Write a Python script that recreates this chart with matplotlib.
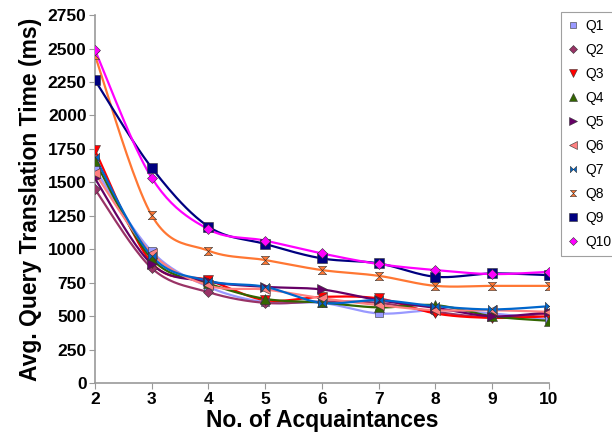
import numpy as np
import matplotlib.pyplot as plt
from matplotlib.path import Path

plt.rcParams['font.family'] = ['Liberation Sans', 'DejaVu Sans']

acquaintances = [2, 3, 4, 5, 6, 7, 8, 9, 10]
series_names = ["Q1", "Q2", "Q3", "Q4", "Q5", "Q6", "Q7", "Q8", "Q9", "Q10"]

q1 = [1600, 985, 720, 605, 600, 521, 545, 521, 476]
q2 = [1450, 860, 680, 600, 610, 600, 533, 492, 521]
q3 = [1740, 900, 770, 620, 645, 633, 521, 488, 500]
q4 = [1660, 930, 745, 630, 603, 566, 583, 500, 466]
q5 = [1530, 890, 760, 720, 700, 620, 563, 500, 530]
q6 = [1570, 970, 730, 700, 635, 583, 545, 545, 533]
q7 = [1690, 950, 765, 720, 600, 620, 575, 551, 575]
q8 = [2450, 1255, 990, 920, 845, 802, 727, 727, 727]
q9 = [2265, 1610, 1170, 1040, 932, 895, 795, 820, 807]
q10 = [2490, 1535, 1150, 1065, 969, 890, 845, 815, 832]
all_series = [q1, q2, q3, q4, q5, q6, q7, q8, q9, q10]

colors = ["#9999ff", "#993366", "#ff0000", "#336600", "#660066",
          "#ff8080", "#0066cc", "#ff7733", "#000080", "#ff00ff"]

# bow-tie style markers
bowtie_h = Path([(-1, -1), (-1, 1), (0, 0), (1, 1), (1, -1), (0, 0), (-1, -1)])
bowtie_v = Path([(-1, -1), (1, -1), (0, 0), (1, 1), (-1, 1), (0, 0), (-1, -1)])
markers = ["s", "D", "v", "^", ">", "<", bowtie_h, bowtie_v, "s", "D"]
msizes = [6, 5, 7, 7, 7, 7, 6, 6, 7, 5]


def smooth_curve(xs, ys, steps=24):
    # spreadsheet-style smoothed line: cubic bezier through every point
    pts = np.column_stack([np.asarray(xs, float), np.asarray(ys, float)])
    n = len(pts)
    t = np.linspace(0, 1, steps)[:, None]
    out = [pts[:1]]
    for i in range(n - 1):
        p0 = pts[i - 1] if i > 0 else pts[i]
        p1 = pts[i]
        p2 = pts[i + 1]
        p3 = pts[i + 2] if i + 2 < n else pts[i + 1]
        c1 = p1 + (p2 - p0) / 6.0
        c2 = p2 - (p3 - p1) / 6.0
        seg = ((1 - t) ** 3) * p1 + 3 * ((1 - t) ** 2) * t * c1 \
            + 3 * (1 - t) * t ** 2 * c2 + t ** 3 * p2
        out.append(seg[1:])
    return np.vstack(out)


fig = plt.figure(figsize=(6.12, 4.43), dpi=100)
ax = fig.add_axes([0.155, 0.135, 0.742, 0.831])

for name, ys, c, m, ms in zip(series_names, all_series, colors, markers, msizes):
    crv = smooth_curve(acquaintances, ys)
    ax.plot(crv[:, 0], crv[:, 1], color=c, lw=1.6, zorder=2)
    ax.plot(acquaintances, ys, linestyle="none", marker=m, markersize=ms,
            markerfacecolor=c, markeredgecolor="#333333", markeredgewidth=0.4,
            zorder=3, label=name)

ax.set_xlim(2, 10)
ax.set_ylim(0, 2750)
ax.set_xticks(acquaintances)
ax.set_yticks(np.arange(0, 2751, 250))
for side in ["top", "right"]:
    ax.spines[side].set_visible(False)
for side in ["left", "bottom"]:
    ax.spines[side].set_color("#999999")
    ax.spines[side].set_linewidth(1.2)
ax.tick_params(axis="both", direction="out", length=4, color="#999999",
               labelsize=12.5, pad=2)
for lbl in ax.get_xticklabels() + ax.get_yticklabels():
    lbl.set_fontweight("bold")

ax.set_xlabel("No. of Acquaintances", fontsize=16.5, fontweight="bold", labelpad=2)
ax.set_ylabel("Avg. Query Translation Time (ms)", fontsize=16.5,
              fontweight="bold", labelpad=4)

leg = ax.legend(loc="upper left", bbox_to_anchor=(1.026, 1.008), frameon=True,
                fancybox=False, fontsize=10, handlelength=0.7, handletextpad=0.6,
                labelspacing=0.72, borderpad=0.5, borderaxespad=0,
                markerscale=0.75)
leg.get_frame().set_edgecolor("#888888")
leg.get_frame().set_linewidth(0.8)

fig.savefig("out.png", dpi=100)
